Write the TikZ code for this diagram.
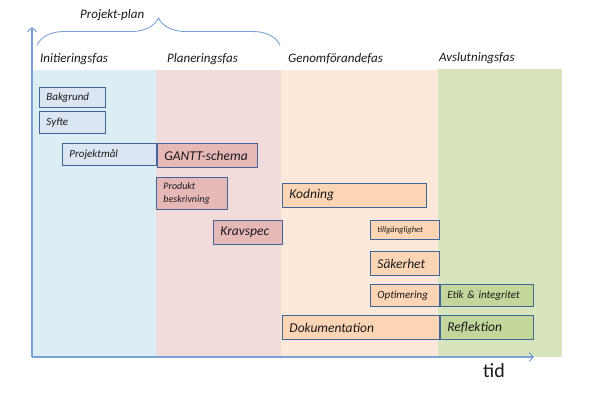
\documentclass[tikz,border=0pt]{standalone}
\usepackage{fontspec}
\setmainfont{Carlito}
\usepackage{tikz}
\usetikzlibrary{positioning,arrows.meta,decorations.pathreplacing}

\definecolor{bginit}{HTML}{DAEEF3}
\definecolor{bgplan}{HTML}{F2DCDB}
\definecolor{bggenom}{HTML}{FDE9D9}
\definecolor{bgavsl}{HTML}{D7E4BD}
\definecolor{boxinit}{HTML}{DCE6F2}
\definecolor{boxplan}{HTML}{E6B9B8}
\definecolor{boxgenom}{HTML}{FCD5B5}
\definecolor{boxavsl}{HTML}{C3D69B}
\definecolor{boxline}{HTML}{41659A}
\definecolor{axisblue}{HTML}{7BA2D6}
\definecolor{textgray}{HTML}{1A1A1A}

\tikzset{
  fasbox/.style={draw=boxline, line width=0.9pt, anchor=north west,
    inner xsep=7pt, inner ysep=0pt, align=left, text=textgray},
  smalltext/.style={font=\itshape\fontsize{11}{13}\selectfont},
  bigtext/.style={font=\itshape\fontsize{13.5}{15}\selectfont},
  fasname/.style={anchor=base west, inner sep=0pt, text=textgray,
    font=\itshape\fontsize{13}{15}\selectfont},
  axisline/.style={draw=axisblue, line width=1.1pt,
    -{Straight Barb[length=4pt,width=9pt]}}
}

\begin{document}
\begin{tikzpicture}[x=1pt,y=-1pt]
  \useasboundingbox (0,0) rectangle (595,400);
  % phase backgrounds
  \fill[bginit] (33,70) rectangle (156,357);
  \fill[bgplan] (156,70) rectangle (281,357);
  \fill[bggenom] (281,70) rectangle (438,357);
  \fill[bgavsl] (438,69) rectangle (562,357);

  % axes
  \coordinate (origin) at (32,357);
  \coordinate (ytop) at (32,27);
  \coordinate (xend) at (534,357);
  \draw[axisline] (origin) -- (ytop);
  \draw[axisline] (origin) -- (xend);
  \node[anchor=base west, inner sep=0pt, font=\fontsize{20}{22}\selectfont,
    text=textgray] (tid) at (483,377) {tid};

  % project plan brace
  \coordinate (bracestart) at (37,45);
  \coordinate (braceend) at (280,45);
  \draw[axisblue, line width=0.9pt, decorate,
    decoration={brace, amplitude=27pt}] (bracestart) -- (braceend);
  \node[fasname] (projektplan) at (80,18) {Projekt-plan};

  % phase names
  \node[fasname] (initiering) at (40,62) {Initieringsfas};
  \node[fasname] (planering) at (167,62) {Planeringsfas};
  \node[fasname] (genomforande) at (288,62) {Genomförandefas};
  \node[fasname] (avslutning) at (439,61) {Avslutningsfas};

  % initieringsfas
  \node[fasbox, smalltext, fill=boxinit, text width=52pt, minimum height=20pt]
    (bakgrund) at (39,87) {Bakgrund};
  \node[fasbox, smalltext, fill=boxinit, text width=52pt, minimum height=22pt]
    (syfte) at (39,111) {Syfte};
  \node[fasbox, smalltext, fill=boxinit, text width=80pt, minimum height=22pt]
    (projektmal) at (62,143) {Projektmål};

  % planeringsfas
  \node[fasbox, bigtext, fill=boxplan, text width=86pt, minimum height=24pt]
    (gantt) at (projektmal.north east) {GANTT-schema};
  \node[fasbox, font=\itshape\fontsize{10}{13}\selectfont, fill=boxplan,
    text width=57pt, minimum height=32pt]
    (produkt) at (156,177) {Produkt\\beskrivning};
  \node[fasbox, bigtext, fill=boxplan, text width=55pt, minimum height=24pt]
    (kravspec) at (213,220) {Kravspec};

  % genomforandefas
  \node[fasbox, bigtext, fill=boxgenom, text width=130pt, minimum height=24pt]
    (kodning) at (282,183) {Kodning};
  \node[fasbox, font=\itshape\fontsize{8.5}{10}\selectfont, fill=boxgenom,
    text width=55pt, minimum height=19pt]
    (tillganglighet) at (370,220) {tillgänglighet};
  \node[fasbox, bigtext, fill=boxgenom, text width=55pt, minimum height=24pt]
    (sakerhet) at (370,251) {Säkerhet};
  \node[fasbox, smalltext, fill=boxgenom, text width=55pt, minimum height=22pt]
    (optimering) at (370,284) {Optimering};
  \node[fasbox, bigtext, fill=boxgenom, text width=143pt, minimum height=24pt]
    (dokumentation) at (282,315) {Dokumentation};

  % avslutningsfas
  \node[fasbox, smalltext, fill=boxavsl, text width=79pt, minimum height=22pt]
    (etik) at (optimering.north east) {Etik \& integritet};
  \node[fasbox, bigtext, fill=boxavsl, text width=79pt, minimum height=24pt]
    (reflektion) at (dokumentation.north east) {Reflektion};
\end{tikzpicture}
\end{document}
